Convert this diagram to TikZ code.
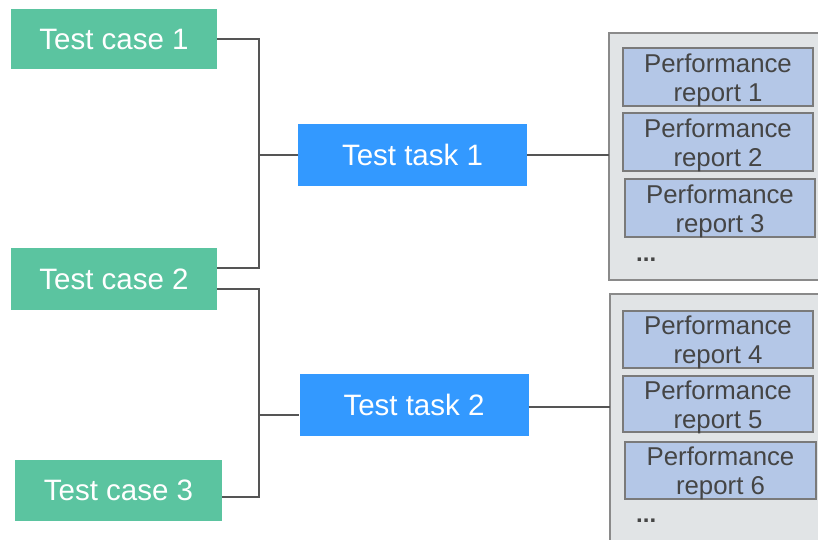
\documentclass[tikz,border=0pt]{standalone}
\usepackage{fontspec}
\setmainfont{Liberation Sans}
\definecolor{casegreen}{HTML}{5BC4A0}
\definecolor{taskblue}{HTML}{3399FF}
\definecolor{repblue}{HTML}{B4C7E7}
\definecolor{repline}{HTML}{7A7A7A}
\definecolor{grpfill}{HTML}{E1E4E6}
\definecolor{grpline}{HTML}{8A8A8A}
\definecolor{conn}{HTML}{555555}
\definecolor{reptext}{HTML}{454545}
\begin{document}
\begin{tikzpicture}[x=1bp,y=-1bp,
  casebox/.style={fill=casegreen,draw=none,text=white,inner sep=0pt,
    font=\fontsize{29.5bp}{32bp}\selectfont},
  taskbox/.style={fill=taskblue,draw=none,text=white,inner sep=0pt,
    font=\fontsize{29.5bp}{32bp}\selectfont},
  repbox/.style={fill=repblue,draw=repline,line width=1.5bp,inner sep=0pt},
  reptxt/.style={text=reptext,inner sep=0pt,align=center,
    font=\fontsize{25.8bp}{29bp}\selectfont},
  dots/.style={text=reptext,font=\bfseries\fontsize{24bp}{26bp}\selectfont,anchor=west,inner sep=0pt},
  grpbox/.style={fill=grpfill,draw=grpline,line width=1.5bp},
  wire/.style={draw=conn,line width=1.5bp}]
\useasboundingbox (0,0) rectangle (818,540);
\clip (0,0) rectangle (818,540);
% test cases
\node[casebox,minimum width=206bp,minimum height=60bp] (c1) at (114,39) {Test case 1};
\node[casebox,minimum width=206bp,minimum height=62bp] (c2) at (114,279) {Test case 2};
\node[casebox,minimum width=207bp,minimum height=61bp] (c3) at (118.5,490) {Test case 3};
% test tasks
\node[taskbox,minimum width=229bp,minimum height=62bp] (t1) at (412.5,155) {Test task 1};
\node[taskbox,minimum width=229bp,minimum height=62bp] (t2) at (414,405) {Test task 2};
% groups
\path[grpbox] (609,33) rectangle (830,280);
\path[grpbox] (610,294) rectangle (830,560);
\coordinate (g1) at (609,155);
\coordinate (g2) at (610,407);
% reports
\node[repbox,minimum width=190bp,minimum height=58bp] (r1) at (718,77) {};
\node[reptxt] (r1t) at ([yshift=-3bp]r1.center) {Performance\\report 1};
\node[repbox,minimum width=190bp,minimum height=58bp] (r2) at (718,142) {};
\node[reptxt] (r2t) at ([yshift=-3bp]r2.center) {Performance\\report 2};
\node[repbox,minimum width=190bp,minimum height=58bp] (r3) at (720,208) {};
\node[reptxt] (r3t) at ([yshift=-3bp]r3.center) {Performance\\report 3};
\node[dots] (d1) at (636,260) {...};
\node[repbox,minimum width=190bp,minimum height=57bp] (r4) at (718,339.5) {};
\node[reptxt] (r4t) at ([yshift=-3bp]r4.center) {Performance\\report 4};
\node[repbox,minimum width=190bp,minimum height=56bp] (r5) at (718,404) {};
\node[reptxt] (r5t) at ([yshift=-3bp]r5.center) {Performance\\report 5};
\node[repbox,minimum width=191bp,minimum height=57bp] (r6) at (720.5,470.5) {};
\node[reptxt] (r6t) at ([yshift=-3bp]r6.center) {Performance\\report 6};
\node[dots] (d2) at (636,521) {...};
% connectors
\coordinate (j1) at (259,155);
\coordinate (j2) at (259,415);
\draw[wire] (c1.east) -- (259,39) |- (c2.east |- 0,268);
\draw[wire] (j1) -- (t1.west);
\draw[wire] (c2.east |- 0,289) -- (259,289) |- (c3.east |- 0,497);
\draw[wire] (j2) -- (t2.west |- j2);
\draw[wire] (t1.east) -- (g1);
\draw[wire] (t2.east |- g2) -- (g2);
\end{tikzpicture}
\end{document}
